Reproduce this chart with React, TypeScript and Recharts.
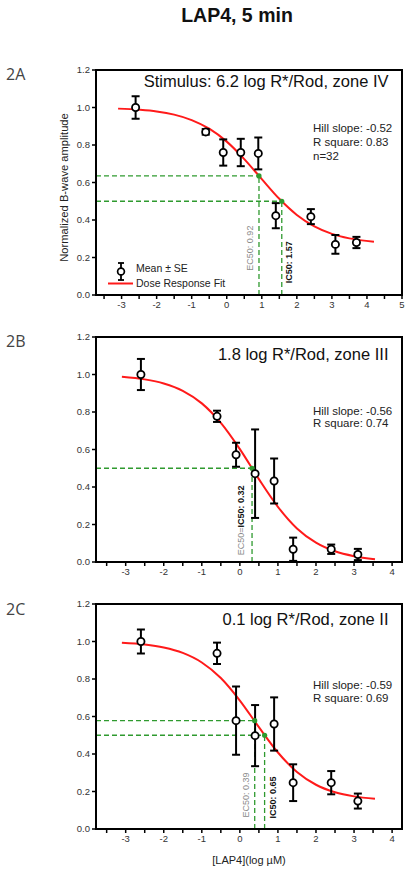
import React from 'react';
import {
  ComposedChart,
  Line,
  Scatter,
  XAxis,
  YAxis,
  ErrorBar,
  ReferenceLine,
  ReferenceDot,
  ReferenceArea,
} from 'recharts';

const FONT = '"Liberation Sans", Arial, Helvetica, sans-serif';
const GREEN = '#2f9a2f';

// ---------- Panel 2A ----------
const doseA = [-2.6, -0.6, -0.1, 0.4, 0.9, 1.4, 2.4, 3.1, 3.7];
const meanA = [1.0, 0.87, 0.76, 0.76, 0.755, 0.423, 0.418, 0.27, 0.28];
const seA = [0.06, 0.015, 0.07, 0.073, 0.085, 0.067, 0.04, 0.05, 0.03];
const fitXA = [-3.1, -2.5, -2, -1.5, -1, -0.5, 0, 0.5, 1, 1.5, 2, 2.5, 3, 3.5, 4.2];
const fitYA = [0.994, 0.988, 0.979, 0.962, 0.933, 0.887, 0.818, 0.725, 0.618, 0.513, 0.427, 0.366, 0.326, 0.302, 0.284];

// ---------- Panel 2B ----------
const doseB = [-2.6, -0.6, -0.1, 0.4, 0.9, 1.4, 2.4, 3.1];
const meanB = [1.0, 0.777, 0.572, 0.471, 0.432, 0.068, 0.068, 0.04];
const seB = [0.083, 0.03, 0.064, 0.236, 0.12, 0.062, 0.025, 0.03];
const fitXB = [-3.1, -2.5, -2, -1.5, -1, -0.5, 0, 0.5, 1, 1.5, 2, 2.5, 3, 3.55];
const fitYB = [0.988, 0.974, 0.952, 0.913, 0.846, 0.742, 0.602, 0.442, 0.294, 0.179, 0.103, 0.057, 0.031, 0.015];

// ---------- Panel 2C ----------
const doseC = [-2.6, -0.6, -0.1, 0.4, 0.9, 1.4, 2.4, 3.1];
const meanC = [1.0, 0.937, 0.578, 0.498, 0.56, 0.247, 0.247, 0.149];
const seC = [0.064, 0.057, 0.182, 0.163, 0.142, 0.098, 0.062, 0.04];
const fitXC = [-3.1, -2.5, -2, -1.5, -1, -0.5, 0, 0.5, 1, 1.5, 2, 2.5, 3, 3.55];
const fitYC = [0.993, 0.984, 0.968, 0.939, 0.888, 0.805, 0.685, 0.543, 0.408, 0.304, 0.236, 0.196, 0.174, 0.161];

// ---------- axes ----------
const xTicksA = [-3.5, -3, -2.5, -2, -1.5, -1, -0.5, 0, 0.5, 1, 1.5, 2, 2.5, 3, 3.5, 4, 4.5, 5];
const xTicksBC = [-3.5, -3, -2.5, -2, -1.5, -1, -0.5, 0, 0.5, 1, 1.5, 2, 2.5, 3, 3.5, 4];
const yTicks = [0, 0.2, 0.4, 0.6, 0.8, 1.0, 1.2];
const xDomainA = [-3.73, 5];
const xDomainBC = [-3.78, 4.26];

// ---------- EC50 / IC50 markers ----------
const guidesA = [
  { x: 0.92, y: 0.635 },
  { x: 1.57, y: 0.5 },
];
const guidesB = [{ x: 0.32, y: 0.5 }];
const guidesC = [
  { x: 0.39, y: 0.578 },
  { x: 0.65, y: 0.5 },
];

type Part = { t: string; bold?: boolean; color: string };
type VLab = { x: number; y: number; dx: number; parts: Part[] };

const labelsA: VLab[] = [
  { x: 0.92, y: 0.25, dx: -8.5, parts: [{ t: 'EC50: 0.92', color: '#8a8a8a' }] },
  { x: 1.57, y: 0.175, dx: 7.5, parts: [{ t: 'IC50: 1.57', bold: true, color: '#111' }] },
];
const labelsB: VLab[] = [
  {
    x: 0.32,
    y: 0.222,
    dx: -11.5,
    parts: [
      { t: 'EC50=', color: '#8a8a8a' },
      { t: 'IC50: 0.32', bold: true, color: '#111' },
    ],
  },
];
const labelsC: VLab[] = [
  { x: 0.39, y: 0.181, dx: -9, parts: [{ t: 'EC50: 0.39', color: '#8a8a8a' }] },
  { x: 0.65, y: 0.168, dx: 8.5, parts: [{ t: 'IC50: 0.65', bold: true, color: '#111' }] },
];

const toPoints = (xs: number[], ys: number[], es: number[]) =>
  xs.map((x, i) => ({ x, y: ys[i], err: es[i] }));
const toCurve = (xs: number[], ys: number[]) => xs.map((x, i) => ({ x, y: ys[i] }));

const tickStyle = { fontSize: 9.5, fill: '#333', fontFamily: FONT };

const OpenCircle = (p: any) => {
  if (p.cx == null || p.cy == null) return null;
  return <circle cx={p.cx} cy={p.cy} r={3.6} fill="#fff" stroke="#000" strokeWidth={1.8} />;
};

const makeVText = (parts: Part[], dx: number) => (p: any) => {
  const cx = p.cx + dx;
  const cy = p.cy;
  return (
    <text
      x={cx}
      y={cy}
      transform={`rotate(-90 ${cx} ${cy})`}
      textAnchor="middle"
      dominantBaseline="central"
      fontSize={9}
      fontFamily={FONT}
    >
      {parts.map((pt, i) => (
        <tspan key={i} fill={pt.color} fontWeight={pt.bold ? 'bold' : 'normal'}>
          {pt.t}
        </tspan>
      ))}
    </text>
  );
};

type PanelProps = {
  top: number;
  height: number;
  xAxisHeight: number;
  xDomain: number[];
  xTicks: number[];
  points: { x: number; y: number; err: number }[];
  fit: { x: number; y: number }[];
  guides: { x: number; y: number }[];
  labels: VLab[];
  yLabel?: string;
  xLabel?: string;
};

const Panel = ({ top, height, xAxisHeight, xDomain, xTicks, points, fit, guides, labels, yLabel, xLabel }: PanelProps) => (
  <div style={{ position: 'absolute', left: 0, top }}>
    <ComposedChart width={412} height={height} margin={{ top: 10, right: 10, left: 60, bottom: 0 }}>
      <XAxis
        type="number"
        dataKey="x"
        domain={xDomain}
        ticks={xTicks}
        allowDataOverflow
        height={xAxisHeight}
        interval={0}
        tickFormatter={(v: number) => (Number.isInteger(v) ? String(v) : '')}
        tick={tickStyle}
        tickSize={4}
        tickMargin={2}
        axisLine={{ stroke: '#000', strokeWidth: 2 }}
        tickLine={{ stroke: '#000', strokeWidth: 1.5 }}
        label={
          xLabel
            ? {
                value: xLabel,
                position: 'insideBottom',
                offset: 10,
                style: { fontSize: 11, fill: '#222', fontFamily: FONT },
              }
            : undefined
        }
      />
      <YAxis
        type="number"
        domain={[0, 1.2]}
        ticks={yTicks}
        allowDataOverflow
        width={36}
        interval={0}
        tickFormatter={(v: number) => v.toFixed(1)}
        tick={tickStyle}
        tickSize={4}
        tickMargin={2}
        axisLine={{ stroke: '#000', strokeWidth: 2 }}
        tickLine={{ stroke: '#000', strokeWidth: 1.5 }}
        label={
          yLabel
            ? {
                content: (lp: any) => {
                  const vb = lp.viewBox || {};
                  const cx = 64;
                  const cy = (vb.y || 0) + (vb.height || 0) / 2 + 5;
                  return (
                    <text
                      x={cx}
                      y={cy}
                      transform={`rotate(-90 ${cx} ${cy})`}
                      textAnchor="middle"
                      dominantBaseline="central"
                      fontSize={11.2}
                      fill="#222"
                      fontFamily={FONT}
                    >
                      {yLabel}
                    </text>
                  );
                },
              }
            : undefined
        }
      />
      <ReferenceArea
        x1={xDomain[0]}
        x2={xDomain[1]}
        y1={0}
        y2={1.2}
        fill="#fff"
        fillOpacity={0}
        stroke="#000"
        strokeWidth={2}
        ifOverflow="visible"
      />
      {guides.map((g, i) => (
        <ReferenceLine
          key={'h' + i}
          segment={[
            { x: xDomain[0], y: g.y },
            { x: g.x, y: g.y },
          ]}
          stroke={GREEN}
          strokeWidth={1.3}
          strokeDasharray="5 3"
          ifOverflow="visible"
        />
      ))}
      {guides.map((g, i) => (
        <ReferenceLine
          key={'v' + i}
          segment={[
            { x: g.x, y: 0 },
            { x: g.x, y: g.y },
          ]}
          stroke={GREEN}
          strokeWidth={1.3}
          strokeDasharray="5 3"
          ifOverflow="visible"
        />
      ))}
      <Line
        data={fit}
        dataKey="y"
        type="monotone"
        stroke="#ff1a1a"
        strokeWidth={2}
        dot={false}
        activeDot={false}
        isAnimationActive={false}
      />
      {guides.map((g, i) => (
        <ReferenceDot key={'d' + i} x={g.x} y={g.y} r={2.6} fill={GREEN} stroke="none" ifOverflow="visible" />
      ))}
      <Scatter data={points} dataKey="y" shape={OpenCircle} isAnimationActive={false}>
        <ErrorBar dataKey="err" direction="y" width={4} stroke="#000" strokeWidth={2} />
      </Scatter>
      {labels.map((l, i) => (
        <ReferenceDot
          key={'l' + i}
          x={l.x}
          y={l.y}
          r={0}
          ifOverflow="visible"
          shape={makeVText(l.parts, l.dx)}
        />
      ))}
    </ComposedChart>
  </div>
);

const Overlay = () => (
  <svg
    width={412}
    height={872}
    style={{ position: 'absolute', left: 0, top: 0, pointerEvents: 'none' }}
    fontFamily={FONT}
  >
    <text x={237} y={22} textAnchor="middle" fontSize={19.5} fontWeight="bold" fill="#111">
      LAP4, 5 min
    </text>
    <g fontFamily='"Open Sans", sans-serif' fontSize={16} fill="#444">
      <text x={6} y={80}>2A</text>
      <text x={6} y={347}>2B</text>
      <text x={6} y={615}>2C</text>
    </g>

    {/* Panel A annotations */}
    <text x={388.5} y={87} textAnchor="end" fontSize={16.5} fill="#111">
      Stimulus: 6.2 log R*/Rod, zone IV
    </text>
    <g fontSize={11.5} fill="#222">
      <text x={313} y={131.5}>Hill slope: -0.52</text>
      <text x={313} y={145.5}>R square: 0.83</text>
      <text x={313} y={159.5}>n=32</text>
    </g>
    {/* legend */}
    <line x1={121} y1={263} x2={121} y2={280} stroke="#000" strokeWidth={1.8} />
    <line x1={118} y1={263} x2={124} y2={263} stroke="#000" strokeWidth={1.8} />
    <line x1={118} y1={280} x2={124} y2={280} stroke="#000" strokeWidth={1.8} />
    <circle cx={121} cy={271.5} r={3.4} fill="#fff" stroke="#000" strokeWidth={1.7} />
    <line x1={108} y1={283.5} x2={133} y2={283.5} stroke="#ff1a1a" strokeWidth={2} />
    <g fontSize={10.5} fill="#222">
      <text x={136} y={272}>Mean ± SE</text>
      <text x={136} y={286.5}>Dose Response Fit</text>
    </g>

    {/* Panel B annotations */}
    <text x={388.5} y={360} textAnchor="end" fontSize={16.5} fill="#111">
      1.8 log R*/Rod, zone III
    </text>
    <g fontSize={11.5} fill="#222">
      <text x={313} y={414.5}>Hill slope: -0.56</text>
      <text x={313} y={427}>R square: 0.74</text>
    </g>

    {/* Panel C annotations */}
    <text x={388.5} y={625} textAnchor="end" fontSize={16.5} fill="#111">
      0.1 log R*/Rod, zone II
    </text>
    <g fontSize={11.5} fill="#222">
      <text x={313} y={688.5}>Hill slope: -0.59</text>
      <text x={313} y={702}>R square: 0.69</text>
    </g>
  </svg>
);

export default function App() {
  return (
    <div
      style={{
        position: 'absolute',
        left: 0,
        top: 0,
        width: 412,
        height: 872,
        background: '#fff',
        fontFamily: FONT,
        overflow: 'hidden',
      }}
    >
      <Panel
        top={60}
        height={265}
        xAxisHeight={30}
        xDomain={xDomainA}
        xTicks={xTicksA}
        points={toPoints(doseA, meanA, seA)}
        fit={toCurve(fitXA, fitYA)}
        guides={guidesA}
        labels={labelsA}
        yLabel="Normalized B-wave amplitude"
      />
      <Panel
        top={327}
        height={265}
        xAxisHeight={30}
        xDomain={xDomainBC}
        xTicks={xTicksBC}
        points={toPoints(doseB, meanB, seB)}
        fit={toCurve(fitXB, fitYB)}
        guides={guidesB}
        labels={labelsB}
      />
      <Panel
        top={594}
        height={280}
        xAxisHeight={45}
        xDomain={xDomainBC}
        xTicks={xTicksBC}
        points={toPoints(doseC, meanC, seC)}
        fit={toCurve(fitXC, fitYC)}
        guides={guidesC}
        labels={labelsC}
        xLabel="[LAP4](log µM)"
      />
      <Overlay />
    </div>
  );
}
